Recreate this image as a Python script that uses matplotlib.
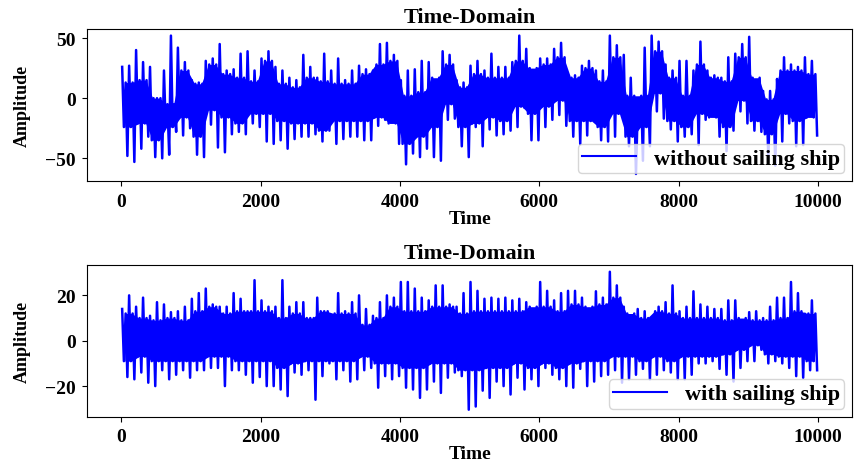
import numpy as np
import matplotlib
matplotlib.use('Agg')
import matplotlib.pyplot as plt

# time grid: one entry per 100-sample block, 10000 samples total
t_block = np.arange(0, 10000, 100)

# per-100-sample peak / trough, top panel (without sailing ship)
top_upper = [26, 27, 40, 30, 26, 0, 23, 52, 42, 30,
             15, 13, 31, 33, 45, 23, 24, 37, 39, 23,
             33, 39, 26, 23, 17, 15, 36, 26, 17, 37,
             23, 33, 15, 23, 27, 24, 23, 45, 46, 36,
             15, 23, 24, 31, 30, 13, 39, 36, 15, 13,
             27, 31, 23, 37, 26, 26, 30, 52, 41, 23,
             33, 33, 41, 46, 17, 19, 27, 31, 23, 23,
             52, 44, 36, 17, -9, 42, 52, 47, 28, 23,
             31, 31, 23, 47, 23, 19, 17, 34, 37, 45,
             51, 12, 6, 6, 16, 34, 28, 26, 34, 31]
top_lower = [-48, -53, -42, -32, -49, -50, -47, -28, -31, -25,
             -47, -49, -22, -41, -45, -30, -28, -30, -21, -24,
             -36, -38, -35, -42, -34, -32, -32, -30, -36, -27,
             -38, -34, -32, -32, -35, -35, -23, -18, -20, -38,
             -55, -46, -49, -42, -49, -52, -18, -17, -40, -49,
             -24, -40, -26, -31, -30, -27, -24, -8, -35, -35,
             -24, -18, -14, -23, -32, -38, -31, -12, -35, -36,
             -32, -12, -40, -63, -52, -40, -11, -17, -26, -36,
             -32, -30, -39, -18, -10, -32, -44, -27, -11, -21,
             -27, -28, -50, -56, -36, -21, -40, -39, -12, -31]
# dense body of the band, per 200-sample block
top_core_hi = [13, 15, 0, -5, 23, 12, 28, 20, 17, 14,
               31, 12, 9, 17, 14, 12, 12, 20, 28, 31,
               2, 5, 17, 28, 9, 20, 17, 17, 31, 25,
               28, 34, 17, 25, 14, 34, 2, 2, 39, 17,
               2, 28, 17, 14, 34, 17, -1, 23, 23, 20]
top_core_lo = [-24, -21, -35, -24, -16, -32, -10, -16, -21, -13,
               -13, -19, -21, -21, -27, -19, -19, -19, -16, -21,
               -38, -32, -24, -5, -24, -21, -16, -19, -7, -13,
               -7, -2, -19, -19, -24, -13, -32, -24, 4, -19,
               -24, -13, -16, -24, -2, -19, -30, -13, -19, -16]

# per-100-sample peak / trough, bottom panel (with sailing ship)
bot_upper = [14, 20, 15, 19, 11, 17, 16, 12.6, 13, 15,
             18.5, 21, 23, 16, 15, 15, 21, 18.5, 13, 26.7,
             17.8, 15, 15, 26.7, 15, 17, 17, 10, 19, 13,
             11, 21, 13, 17, 20, 14, 11, 17, 20, 19,
             25.9, 25.9, 23, 19, 17.8, 24.4, 24.4, 16, 15, 21,
             25.9, 22, 18.5, 19, 18.5, 19, 17.8, 18.5, 17, 12.6,
             25.9, 22, 17.8, 21, 22, 22, 19, 14, 21.8, 19,
             30.4, 24.4, 15, 9, 14, 13, 10, 15, 17, 24.4,
             13, 15, 21.8, 16, 15, 14, 14, 17.8, 17.8, 9,
             12.6, 13, 10, 15, 19, 19, 25.9, 21, 11.9, 17.8]
bot_lower = [-16, -17, -14, -18.5, -20, -13, -17, -15, -13, -16.3,
             -13, -13, -12, -12, -20, -13, -13, -15, -18.5, -16,
             -20, -20, -21.5, -24.4, -14, -15, -13, -26, -15.6, -10,
             -17, -13, -18, -17, -13, -12, -20.7, -15.6, -17, -15.6,
             -20.7, -21.5, -25.2, -21.5, -18, -23, -16.3, -14, -15.6, -30.4,
             -29, -22, -25.2, -18, -20, -23.7, -16.3, -21.5, -17, -20,
             -12, -15, -17, -20, -20.7, -12.4, -20, -18, -15.6, -15,
             -13, -18.5, -17, -15, -12.4, -17, -15, -13, -14, -17,
             -17, -15, -10, -10, -9, -12.4, -15, -18, -12, -9,
             -9, -4, -10, -9, -10, -12, -15.6, -16.3, -13, -13]
bot_core_hi = [12, 10, 9, 10, 9, 13, 15, 12, 13, 13,
               13, 10, 12, 10, 13, 12, 12, 7, 10, 15,
               13, 13, 15, 15, 12, 13, 13, 13, 13, 15,
               15, 13, 16, 15, 16, 19, 12, 10, 13, 12,
               10, 10, 10, 9, 10, 9, 9, 10, 13, 12]
bot_core_lo = [-9, -7, -9, -9, -9, -9, -7, -7, -9, -9,
               -9, -12, -10, -9, -9, -9, -9, -7, -10, -10,
               -12, -12, -10, -10, -13, -13, -12, -12, -10, -12,
               -10, -12, -10, -9, -9, -7, -7, -9, -7, -9,
               -7, -7, -7, -6, -4, -2, -6, -7, -7, -9]

panels = [
    (top_upper, top_lower, top_core_hi, top_core_lo, 'without sailing ship', [-50, 0, 50]),
    (bot_upper, bot_lower, bot_core_hi, bot_core_lo, 'with sailing ship', [-20, 0, 20]),
]

plt.rcParams['font.family'] = ['Liberation Serif', 'DejaVu Serif']
plt.rcParams['font.weight'] = 'bold'


def trace(up, lo, c_hi, c_lo):
    # inside each 100-sample block: peak, body bottom, body top, trough
    hi = np.repeat(c_hi, 2)
    bl = np.repeat(c_lo, 2)
    t = np.column_stack([t_block + 12, t_block + 37,
                         t_block + 62, t_block + 87]).ravel()
    y = np.column_stack([up, bl, hi, lo]).ravel()
    return t, y, hi, bl


fig = plt.figure(figsize=(8.57, 4.64), dpi=100)
rects = [[0.102, 0.608, 0.892, 0.328], [0.102, 0.100, 0.892, 0.327]]

for rect, (up, lo, c_hi, c_lo, name, yt) in zip(rects, panels):
    ax = fig.add_axes(rect)
    t, y, hi, bl = trace(up, lo, c_hi, c_lo)
    ax.fill_between(t_block + 50, bl, hi, color='blue', lw=0)
    ax.plot(t, y, color='blue', lw=1.8, label=name)
    ax.set_yticks(yt)
    ax.set_title('Time-Domain', fontsize=16, fontweight='bold', pad=5)
    ax.set_xlabel('Time', fontsize=14, fontweight='bold', labelpad=0)
    ax.set_ylabel('Amplitude', fontsize=13, fontweight='bold', labelpad=10)
    ax.tick_params(labelsize=14, pad=5)
    for lab in ax.get_xticklabels() + ax.get_yticklabels():
        lab.set_fontweight('bold')
    leg = ax.legend(loc='lower right', prop={'weight': 'bold', 'size': 16},
                    handlelength=2.4, borderpad=0.2, borderaxespad=0.35)
    leg.get_lines()[0].set_linewidth(1.5)

fig.savefig('out.png', dpi=100)
